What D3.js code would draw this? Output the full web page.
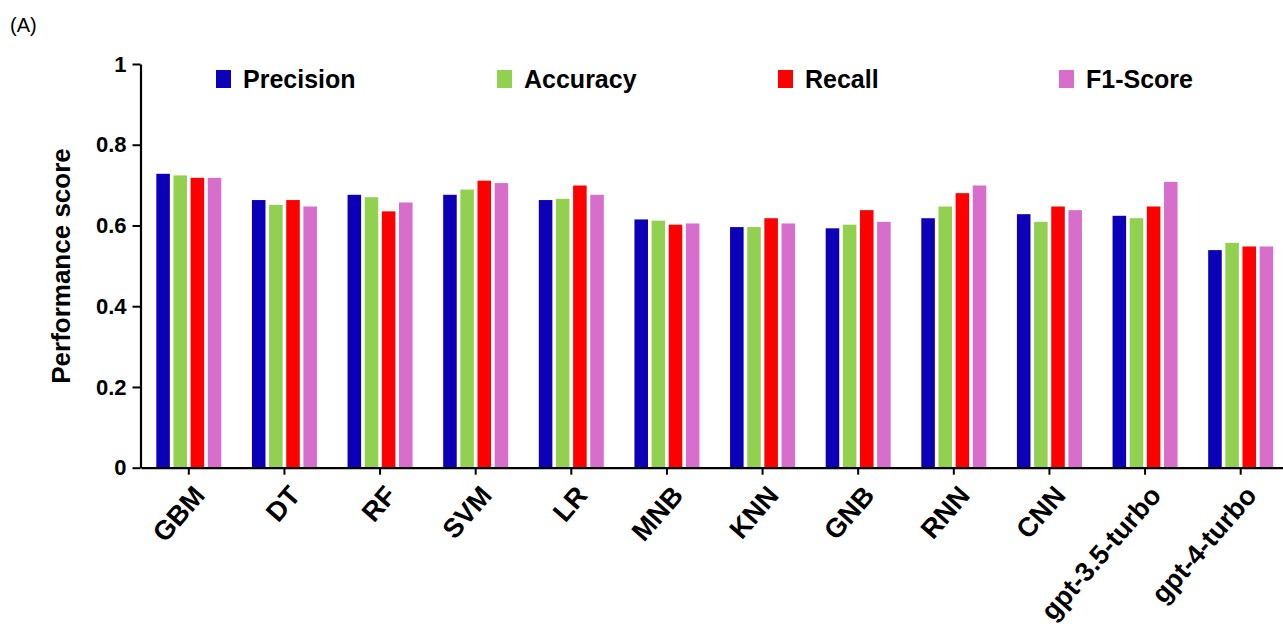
<!DOCTYPE html>
<html>
<head>
<meta charset="utf-8">
<script src="https://cdn.jsdelivr.net/npm/d3@7"></script>
<style>
  html, body { margin: 0; padding: 0; background: #fff; }
  svg { display: block; }
  text { font-family: "Liberation Sans", Arial, sans-serif; }
</style>
</head>
<body>
<svg id="chart" width="1283" height="628"></svg>
<script>
// Model names along the x axis
const models = ["GBM", "DT", "RF", "SVM", "LR", "MNB", "KNN", "GNB", "RNN", "CNN", "gpt-3.5-turbo", "gpt-4-turbo"];

// Metric series, one value per model
const seriesNames = ["Precision", "Accuracy", "Recall", "F1-Score"];
const precision = [0.728, 0.663, 0.676, 0.676, 0.663, 0.615, 0.596, 0.593, 0.618, 0.628, 0.624, 0.539];
const accuracy  = [0.724, 0.651, 0.670, 0.689, 0.666, 0.612, 0.596, 0.602, 0.647, 0.609, 0.618, 0.557];
const recall    = [0.718, 0.663, 0.635, 0.711, 0.699, 0.602, 0.618, 0.638, 0.680, 0.647, 0.647, 0.548];
const f1score   = [0.718, 0.647, 0.657, 0.705, 0.676, 0.605, 0.605, 0.609, 0.699, 0.638, 0.708, 0.548];

const seriesColors = ["#0b00b8", "#92d050", "#ff0000", "#d86ecc"];
const yTicks = [0, 0.2, 0.4, 0.6, 0.8, 1];
const yTickLabels = ["0", "0.2", "0.4", "0.6", "0.8", "1"];

const values = [precision, accuracy, recall, f1score];
const rows = models.map((m, i) => ({
  model: m,
  bars: seriesNames.map((s, k) => ({ series: s, value: values[k][i], color: seriesColors[k] }))
}));

const svg = d3.select("#chart");

// Plot frame
const x0 = 141, x1 = 1288.5, yBottom = 467.7, yTop = 64;

const x = d3.scaleBand().domain(models).range([x0, x1]).paddingInner(0).paddingOuter(0);
const xInner = d3.scaleBand().domain(seriesNames).range([-32.5, 32.5]).paddingInner(0.21).paddingOuter(0);
const y = d3.scaleLinear().domain([0, 1]).range([yBottom, yTop]);

// Bars
const groups = svg.append("g").selectAll("g")
  .data(rows).join("g")
  .attr("transform", d => `translate(${x(d.model) + x.bandwidth() / 2},0)`);

groups.selectAll("rect")
  .data(d => d.bars).join("rect")
  .attr("x", d => xInner(d.series))
  .attr("width", xInner.bandwidth())
  .attr("y", d => y(d.value))
  .attr("height", d => y(0) - y(d.value))
  .attr("fill", d => d.color);

// Y axis
const yAxis = d3.axisLeft(y)
  .tickValues(yTicks)
  .tickFormat((d, i) => yTickLabels[i])
  .tickSize(8)
  .tickPadding(6)
  .tickSizeOuter(0);

const gy = svg.append("g").attr("transform", `translate(${x0 - 0.5},0)`).call(yAxis);
gy.select(".domain").attr("stroke", "#000").attr("stroke-width", 2.2);
gy.selectAll(".tick line").attr("stroke", "#000").attr("stroke-width", 2);
gy.selectAll(".tick text")
  .attr("font-size", 22).attr("font-weight", "bold").attr("fill", "#000")
  .attr("font-family", "Liberation Sans, Arial, sans-serif");

// X axis
const xAxis = d3.axisBottom(x).tickSize(7).tickSizeOuter(0).tickFormat("");
const gx = svg.append("g").attr("transform", `translate(0,${yBottom})`).call(xAxis);
gx.select(".domain").attr("stroke", "#000").attr("stroke-width", 2.2);
gx.selectAll(".tick line").attr("stroke", "#000").attr("stroke-width", 2);

// Rotated category labels
svg.append("g").selectAll("text")
  .data(models).join("text")
  .attr("transform", d => `translate(${x(d) + x.bandwidth() / 2 + 3},${yBottom + 16}) rotate(-49)`)
  .attr("text-anchor", "end")
  .attr("dominant-baseline", "hanging")
  .attr("font-size", 27)
  .attr("font-weight", "bold")
  .attr("fill", "#000")
  .text(d => d);

// Y axis title
svg.append("text")
  .attr("transform", `translate(70,266) rotate(-90)`)
  .attr("text-anchor", "middle")
  .attr("font-size", 26)
  .attr("font-weight", "bold")
  .attr("fill", "#000")
  .text("Performance score");

// Legend
const legendX = 216, legendStep = 281;
const legend = svg.append("g").selectAll("g")
  .data(seriesNames).join("g")
  .attr("transform", (d, i) => `translate(${legendX + i * legendStep},70)`);
legend.append("rect")
  .attr("width", 15).attr("height", 18)
  .attr("fill", (d, i) => seriesColors[i]);
legend.append("text")
  .attr("x", 27).attr("y", 18)
  .attr("font-size", 25)
  .attr("font-weight", "bold")
  .attr("fill", "#000")
  .text(d => d);

// Panel tag
svg.append("text")
  .attr("x", 10).attr("y", 32)
  .attr("font-size", 20)
  .attr("font-family", "Open Sans, sans-serif")
  .attr("fill", "#000")
  .text("(A)");
</script>
</body>
</html>
